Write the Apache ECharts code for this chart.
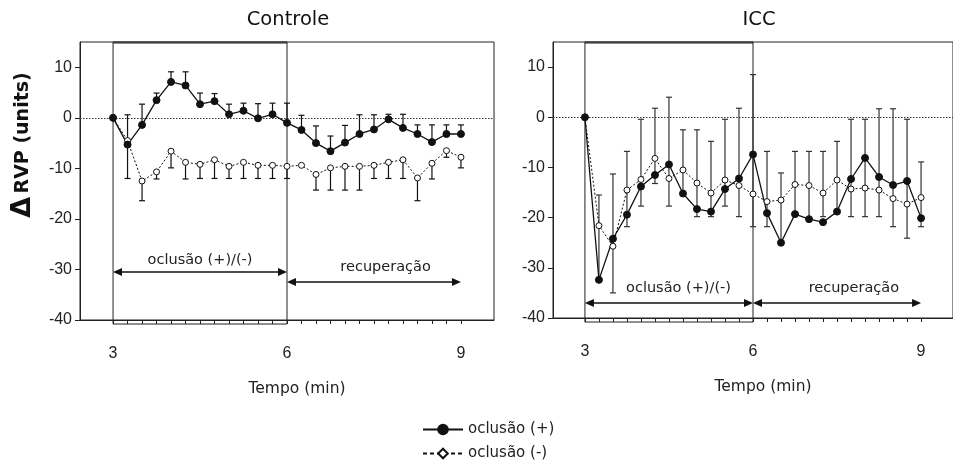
<!DOCTYPE html>
<html>
<head>
<meta charset="utf-8">
<script src="https://cdn.jsdelivr.net/npm/echarts@6/dist/echarts.min.js"></script>
<style>html,body{margin:0;padding:0;background:#fff;}#chart{width:953px;height:466px;}</style>
</head>
<body>
<div id="chart"></div>
<script>
// ---------- data ----------
const times = [3, 3.25, 3.5, 3.75, 4, 4.25, 4.5, 4.75, 5, 5.25, 5.5, 5.75, 6, 6.25, 6.5, 6.75, 7, 7.25, 7.5, 7.75, 8, 8.25, 8.5, 8.75, 9];
const xTickLabels = [3, 6, 9];
const yTickLabels = [-40, -30, -20, -10, 0, 10];
const panelTitles = ['Controle', 'ICC'];
const seriesNames = ['oclusão (+)', 'oclusão (-)'];

// Controle panel
const ctrlPlus = [0, -5.3, -1.4, 3.5, 7.1, 6.4, 2.7, 3.3, 0.7, 1.4, -0.1, 0.7, -1.0, -2.4, -5.0, -6.6, -4.9, -3.2, -2.3, -0.3, -2.0, -3.2, -4.8, -3.2, -3.2];
const ctrlPlusErr = [0, 5.9, 4.1, 1.4, 2.0, 2.7, 2.2, 1.5, 2.0, 1.5, 2.9, 2.2, 3.9, 2.9, 3.4, 3.0, 3.4, 3.8, 2.9, 1.0, 2.7, 1.8, 3.4, 1.8, 1.8];
const ctrlMinus = [0, -4.5, -12.5, -10.7, -6.6, -8.8, -9.2, -8.3, -9.6, -8.8, -9.4, -9.4, -9.6, -9.4, -11.2, -9.9, -9.6, -9.6, -9.4, -8.8, -8.3, -11.9, -9.0, -6.5, -7.8];
const ctrlMinusErr = [0, 7.5, 3.9, 1.4, 3.3, 3.3, 2.8, 3.7, 2.4, 3.2, 2.6, 2.6, 2.4, 0, 3.1, 4.4, 4.7, 4.7, 2.6, 3.2, 3.7, 4.5, 3.1, 1.3, 2.1];

// ICC panel
const iccPlus = [0, -32.4, -24.2, -19.4, -13.8, -11.5, -9.4, -15.2, -18.3, -18.8, -14.3, -12.2, -7.4, -19.1, -25.0, -19.3, -20.3, -20.9, -18.8, -12.3, -8.1, -11.9, -13.5, -12.7, -20.1];
const iccMinus = [0, -21.6, -25.7, -14.5, -12.4, -8.2, -12.2, -10.5, -13.1, -15.1, -12.5, -13.6, -15.3, -16.8, -16.5, -13.4, -13.6, -15.1, -12.5, -14.3, -14.1, -14.5, -16.2, -17.3, -16.0];
const iccBarLow = [null, -32.4, -35.0, -21.8, -17.7, -13.2, -17.7, -15.2, -19.8, -19.8, -17.7, -19.8, -21.8, -21.8, -25.0, -19.5, -20.1, -19.8, -18.5, -19.8, -19.8, -19.8, -21.8, -24.1, -21.8];
const iccBarHigh = [null, -15.5, -11.3, -6.8, -0.4, 1.8, 4.0, -2.5, -2.5, -4.8, -0.4, 1.8, 8.5, -6.8, -11.1, -6.8, -6.8, -6.8, -4.8, -0.4, -0.4, 1.7, 1.7, -0.4, -8.9];

// phases (occlusion window and recovery) and annotation labels
const occlusionWindow = [3, 6];
const phaseLabels = ['oclusão (+)/(-)', 'recuperação'];
const phaseFrom = [3, 6];
const phaseTo = [6, 9];
const ctrlPhaseArrowY = [-30.5, -32.5];
const ctrlPhaseTextX = [4.5, 7.7];
const ctrlPhaseTextY = [-28.1, -29.6];
const iccPhaseArrowY = [-37, -37];
const iccPhaseTextX = [4.67, 7.8];
const iccPhaseTextY = [-34, -34];

// ---------- chart ----------
const ink = '#111';
const chart = echarts.init(document.getElementById('chart'));

function errSeries(idx, lows, highs, capLow, capHigh, color) {
  const data = [];
  times.forEach((t, i) => {
    if (lows[i] == null || highs[i] == null) return;
    if (lows[i] === highs[i]) return;
    data.push([t, lows[i], highs[i]]);
  });
  return {
    type: 'custom', xAxisIndex: idx, yAxisIndex: idx, silent: true, z: 2,
    data: data,
    renderItem: function (params, api) {
      const x = api.value(0), lo = api.value(1), hi = api.value(2);
      const p1 = api.coord([x, lo]), p2 = api.coord([x, hi]);
      const st = { stroke: color, lineWidth: 1.2 };
      const ch = [{ type: 'line', shape: { x1: p1[0], y1: p1[1], x2: p2[0], y2: p2[1] }, style: st }];
      if (capLow) ch.push({ type: 'line', shape: { x1: p1[0] - 3, y1: p1[1], x2: p1[0] + 3, y2: p1[1] }, style: st });
      if (capHigh) ch.push({ type: 'line', shape: { x1: p2[0] - 3, y1: p2[1], x2: p2[0] + 3, y2: p2[1] }, style: st });
      return { type: 'group', children: ch };
    }
  };
}

function boxSeries(idx) {
  return {
    type: 'custom', xAxisIndex: idx, yAxisIndex: idx, silent: true, z: 1, clip: false,
    data: [occlusionWindow],
    renderItem: function (params, api) {
      const cs = params.coordSys;
      const xa = api.coord([api.value(0), 0])[0];
      const xb = api.coord([api.value(1), 0])[0];
      return { type: 'group', children: [
        { type: 'rect', shape: { x: xa, y: cs.y, width: xb - xa, height: cs.height + 4 }, style: { fill: 'none', stroke: '#222', lineWidth: 1 } },
        { type: 'line', shape: { x1: xa, y1: cs.y + 1, x2: xb, y2: cs.y + 1 }, style: { stroke: '#222', lineWidth: 1 } }
      ] };
    }
  };
}

function phaseSeries(idx, arrowY, textX, textY) {
  const data = phaseLabels.map((l, i) => [phaseFrom[i], phaseTo[i], arrowY[i], textX[i], textY[i]]);
  return {
    type: 'custom', xAxisIndex: idx, yAxisIndex: idx, silent: true, z: 3,
    data: data,
    renderItem: function (params, api) {
      const a = api.coord([api.value(0), api.value(2)]);
      const b = api.coord([api.value(1), api.value(2)]);
      const t = api.coord([api.value(3), api.value(4)]);
      const L = 9, H = 4;
      return { type: 'group', children: [
        { type: 'line', shape: { x1: a[0] + 2, y1: a[1], x2: b[0] - 2, y2: b[1] }, style: { stroke: ink, lineWidth: 1.5 } },
        { type: 'polygon', shape: { points: [[a[0], a[1]], [a[0] + L, a[1] - H], [a[0] + L, a[1] + H]] }, style: { fill: ink } },
        { type: 'polygon', shape: { points: [[b[0], b[1]], [b[0] - L, b[1] - H], [b[0] - L, b[1] + H]] }, style: { fill: ink } },
        { type: 'text', x: t[0], y: t[1], style: { text: phaseLabels[params.dataIndex], align: 'center', verticalAlign: 'middle', fontFamily: 'DejaVu Sans', fontSize: 14.5, fill: '#222' } }
      ] };
    }
  };
}

function lineSeries(idx, name, vals, filled, withZero) {
  const s = {
    type: 'line', name: name, xAxisIndex: idx, yAxisIndex: idx, z: 5,
    data: times.map((t, i) => [t, vals[i]]),
    symbol: 'circle',
    symbolSize: filled ? 7 : 6,
    showAllSymbol: true,
    itemStyle: { color: filled ? ink : '#fff', borderColor: ink, borderWidth: 1 },
    lineStyle: { color: ink, width: filled ? 1.3 : 1, type: filled ? 'solid' : [2, 2] },
    animation: false
  };
  if (withZero) {
    s.markLine = { silent: true, symbol: 'none', label: { show: false },
      lineStyle: { color: '#333', type: [1.5, 1.5], width: 1 },
      data: [{ yAxis: 0 }] };
  }
  return s;
}

function xAxisCfg(idx) {
  return {
    type: 'value', gridIndex: idx, min: 2.43, max: 9.57,
    name: 'Tempo (min)', nameLocation: 'middle', nameGap: 61,
    nameTextStyle: { fontFamily: 'DejaVu Sans', fontSize: 15.5, color: '#222', padding: [0, 0, 0, 20] },
    axisLine: { show: true, onZero: false, lineStyle: { color: '#222', width: 1 } },
    axisTick: { show: true, inside: false, length: 4, customValues: times, lineStyle: { color: '#222' } },
    axisLabel: { customValues: xTickLabels, margin: 26, fontFamily: 'Liberation Sans', fontSize: 16, color: '#222' },
    splitLine: { show: false }
  };
}

function yAxisCfg(idx) {
  return {
    type: 'value', gridIndex: idx, min: -40, max: 15, interval: 10,
    axisLine: { show: true, lineStyle: { color: '#222', width: 1 } },
    axisTick: { show: true, length: 5, customValues: yTickLabels, lineStyle: { color: '#222' } },
    axisLabel: { customValues: yTickLabels, margin: 8, fontFamily: 'Liberation Sans', fontSize: 16, color: '#222' },
    splitLine: { show: false }
  };
}

const legendText = { fontFamily: 'DejaVu Sans', fontSize: 15, color: '#222' };
const option = {
  animation: false,
  backgroundColor: '#fff',
  grid: [
    { left: 80, top: 42, width: 414, height: 278, show: true, borderColor: '#222', borderWidth: 1 },
    { left: 553, top: 42, width: 412, height: 276, show: true, borderColor: '#222', borderWidth: 1 }
  ],
  xAxis: [xAxisCfg(0), xAxisCfg(1)],
  yAxis: [yAxisCfg(0), yAxisCfg(1)],
  legend: [
    { left: 422, top: 422, padding: 0, itemWidth: 40, itemHeight: 12, itemGap: 6, textStyle: legendText, data: [seriesNames[0]] },
    { left: 422, top: 446, padding: 0, itemWidth: 40, itemHeight: 12, itemGap: 6, textStyle: legendText, data: [seriesNames[1]] }
  ],
  graphic: [
    { type: 'text', x: 288, y: 20, style: { text: panelTitles[0], align: 'center', verticalAlign: 'middle', fontFamily: 'DejaVu Sans', fontSize: 19.5, fill: '#111' } },
    { type: 'text', x: 759, y: 20, style: { text: panelTitles[1], align: 'center', verticalAlign: 'middle', fontFamily: 'DejaVu Sans', fontSize: 19.5, fill: '#111' } },
    { type: 'text', x: 23, y: 145, rotation: Math.PI / 2,
      style: { text: '{d|Δ} {b|RVP (units)}', align: 'center', verticalAlign: 'middle',
        rich: { d: { fontFamily: 'DejaVu Sans', fontWeight: 'bold', fontSize: 27, fill: '#111' },
                b: { fontFamily: 'DejaVu Sans', fontWeight: 'bold', fontSize: 19, fill: '#111' } } } }
  ],
  series: [
    // legend appearance for the open-marker series
    { type: 'line', name: seriesNames[1], data: [], xAxisIndex: 0, yAxisIndex: 0, symbol: 'diamond', symbolSize: 10,
      itemStyle: { color: '#fff', borderColor: ink, borderWidth: 1.2 }, lineStyle: { color: ink, width: 1.2, type: [4, 3] } },
    boxSeries(0),
    boxSeries(1),
    errSeries(0, ctrlPlus, ctrlPlus.map((v, i) => v + ctrlPlusErr[i]), false, true, ink),
    errSeries(0, ctrlMinus.map((v, i) => v - ctrlMinusErr[i]), ctrlMinus, true, false, ink),
    errSeries(1, iccBarLow, iccBarHigh, true, true, '#333'),
    phaseSeries(0, ctrlPhaseArrowY, ctrlPhaseTextX, ctrlPhaseTextY),
    phaseSeries(1, iccPhaseArrowY, iccPhaseTextX, iccPhaseTextY),
    lineSeries(0, seriesNames[1], ctrlMinus, false, true),
    lineSeries(0, seriesNames[0], ctrlPlus, true, false),
    lineSeries(1, seriesNames[1], iccMinus, false, true),
    lineSeries(1, seriesNames[0], iccPlus, true, false)
  ]
};
chart.setOption(option);
</script>
</body>
</html>
